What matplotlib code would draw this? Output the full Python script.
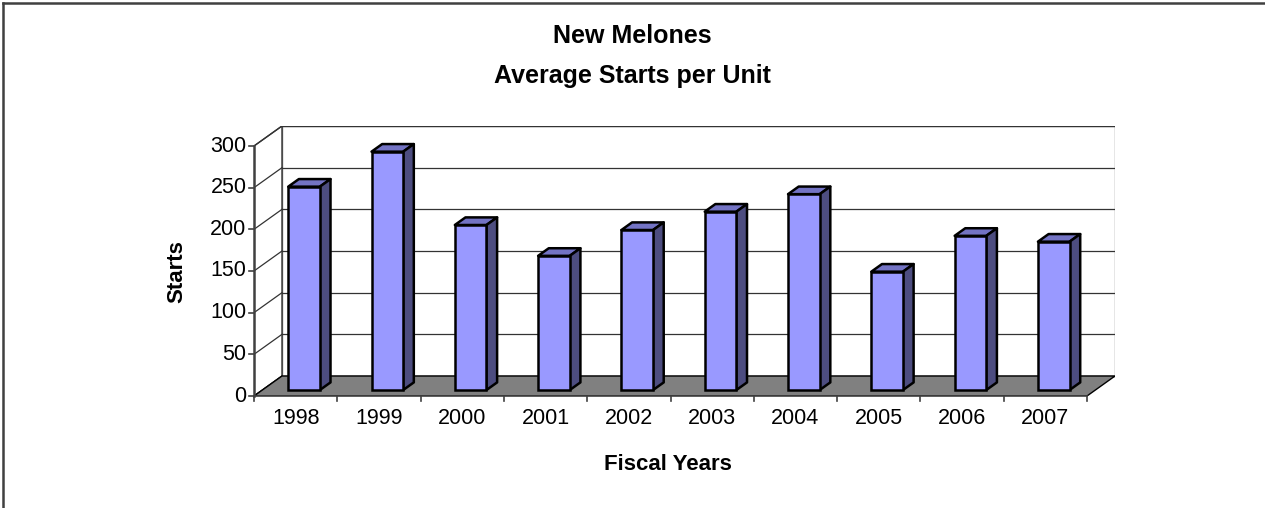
import matplotlib.pyplot as plt
from matplotlib.patches import Polygon
import numpy as np

plt.rcParams['font.family'] = ['Liberation Sans', 'DejaVu Sans']

years = ['1998', '1999', '2000', '2001', '2002', '2003', '2004', '2005', '2006', '2007']
starts = [244, 286, 198, 161, 192, 214, 235, 142, 185, 178]
yticks = [0, 50, 100, 150, 200, 250, 300]

# fake 3d: depth offset of the back wall in data units
DX = 0.336
DY = 24
f0, f1 = 0.3, 0.68   # bar front / back depth as fraction of the floor
bw = 0.38

front_c = '#9999FF'
top_c = '#7373C4'
side_c = '#4D4D80'
line_c = '#333333'

fig = plt.figure(figsize=(12.65, 5.08), dpi=100)
ax = fig.add_axes([254 / 1265, (508 - 396) / 508, (1115 - 254) / 1265, (396 - 126) / 508])
n = len(years)
ymax = yticks[-1]
ax.set_xlim(0, n + DX)
ax.set_ylim(0, ymax + DY)
ax.axis('off')

# walls and floor
ax.add_patch(Polygon([(DX, DY), (n + DX, DY), (n + DX, ymax + DY), (DX, ymax + DY)],
                     closed=True, facecolor='white', edgecolor='#808080', lw=1, zorder=1))
ax.add_patch(Polygon([(0, 0), (DX, DY), (DX, ymax + DY), (0, ymax)],
                     closed=True, facecolor='white', edgecolor=line_c, lw=1, zorder=1))
for v in yticks:
    ax.plot([DX, n + DX], [v + DY, v + DY], color=line_c, lw=0.9, zorder=2)
    ax.plot([0, DX], [v, v + DY], color=line_c, lw=0.9, zorder=2)
ax.add_patch(Polygon([(0, 0), (n, 0), (n + DX, DY), (DX, DY)],
                     closed=True, facecolor='#808080', edgecolor='black', lw=1, zorder=3))

# bars
x = np.arange(n) + 0.5 + f0 * DX
base = f0 * DY
ax.bar(x, starts, width=bw, bottom=base, color=front_c, edgecolor='black', lw=1.8, zorder=5)
ddx = (f1 - f0) * DX
ddy = (f1 - f0) * DY
for xi, v in zip(x, starts):
    xl, xr, top = xi - bw / 2, xi + bw / 2, base + v
    ax.add_patch(Polygon([(xl, top), (xr, top), (xr + ddx, top + ddy), (xl + ddx, top + ddy)],
                         closed=True, facecolor=top_c, edgecolor='black', lw=1.8, zorder=4, joinstyle='round'))
    ax.add_patch(Polygon([(xr, base), (xr + ddx, base + ddy), (xr + ddx, top + ddy), (xr, top)],
                         closed=True, facecolor=side_c, edgecolor='black', lw=1.8, zorder=4, joinstyle='round'))

# front axes
ax.plot([0, 0], [0, ymax], color='#404040', lw=1.8, zorder=6, clip_on=False)
ax.plot([0, n], [0, 0], color='#404040', lw=1.2, zorder=6, clip_on=False)
tx = 5 / 83.3
for v in yticks:
    ax.plot([-tx, 0], [v, v], color='#404040', lw=1.2, clip_on=False)
    ax.text(-tx - 0.03, v, str(v), ha='right', va='center', fontsize=15.5)
ty = 5 / 0.8333
for i in range(n + 1):
    ax.plot([i, i], [0, -ty], color='#404040', lw=1.2, clip_on=False)
for i, yr in enumerate(years):
    ax.text(i + 0.5, -27, yr, ha='center', va='center', fontsize=15.5)

fig.text(0.5, 1 - 36 / 508, 'New Melones', ha='center', va='center', fontsize=18, fontweight='bold')
fig.text(0.5, 1 - 76 / 508, 'Average Starts per Unit', ha='center', va='center', fontsize=18, fontweight='bold')
fig.text(177 / 1265, 1 - 272 / 508, 'Starts', ha='center', va='center', rotation=90, fontsize=16, fontweight='bold')
fig.text(668 / 1265, 1 - 465 / 508, 'Fiscal Years', ha='center', va='center', fontsize=16, fontweight='bold')

# outer frame (only top/left visible in the original crop)
fig.add_artist(plt.Line2D([3 / 1265, 3 / 1265], [0, 1 - 3 / 508], color='#404040', lw=1.8))
fig.add_artist(plt.Line2D([3 / 1265, 1], [1 - 3 / 508, 1 - 3 / 508], color='#404040', lw=1.8))

fig.savefig('out.png', dpi=100)
